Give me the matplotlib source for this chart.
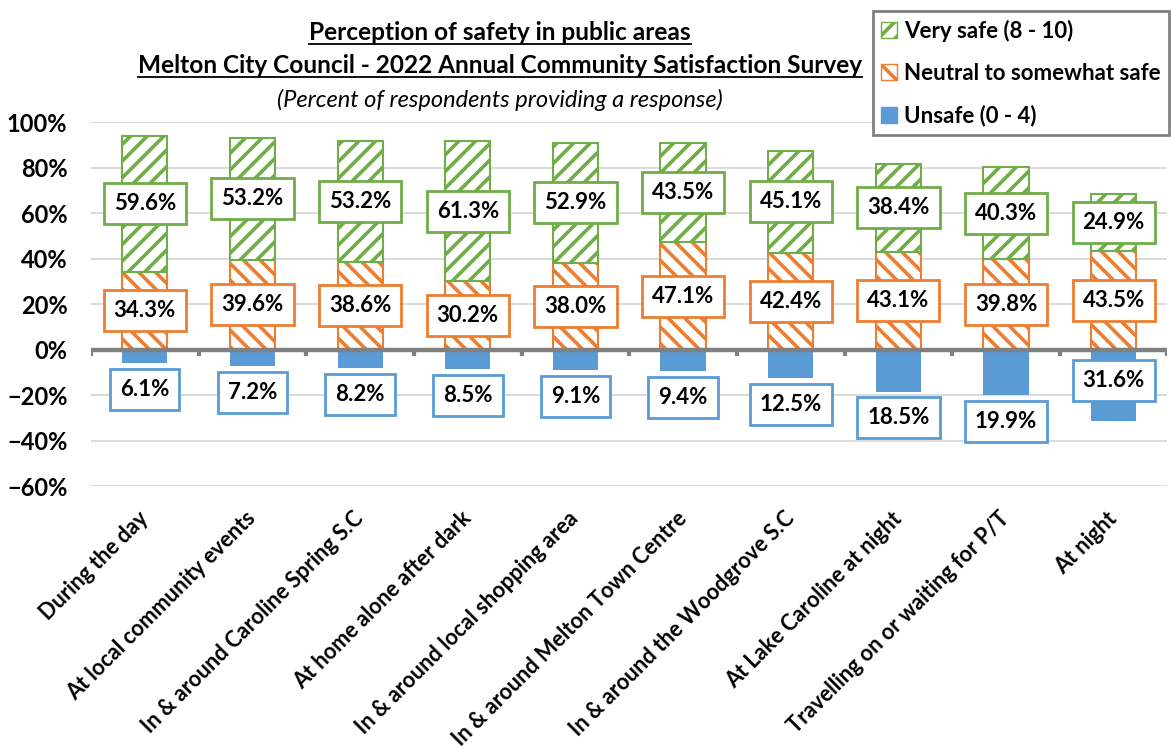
import matplotlib
matplotlib.use("Agg")
import matplotlib.pyplot as plt
import matplotlib.patches as mpatches
from matplotlib.ticker import PercentFormatter
import numpy as np

plt.rcParams['font.family'] = ['Lato', 'DejaVu Sans']
plt.rcParams['hatch.linewidth'] = 2.6

# Data
categories = ["During the day", "At local community events", "In & around Caroline Spring S.C",
              "At home alone after dark", "In & around local shopping area",
              "In & around Melton Town Centre", "In & around the Woodgrove S.C",
              "At Lake Caroline at night", "Travelling on or waiting for P/T", "At night"]
unsafe = [6.1, 7.2, 8.2, 8.5, 9.1, 9.4, 12.5, 18.5, 19.9, 31.6]
neutral = [34.3, 39.6, 38.6, 30.2, 38.0, 47.1, 42.4, 43.1, 39.8, 43.5]
very_safe = [59.6, 53.2, 53.2, 61.3, 52.9, 43.5, 45.1, 38.4, 40.3, 24.9]

GREEN = '#70AD47'
ORANGE = '#ED7D31'
BLUE = '#5B9BD5'
GREY = '#808080'

fig = plt.figure(figsize=(11.71, 7.49), dpi=100)
ax = fig.add_axes([0.0777, 0.351, 0.9193, 0.486])

x = np.arange(len(categories))
w = 0.42
neg = [-v for v in unsafe]

ax.bar(x, neutral, w, color='white', edgecolor=ORANGE, hatch='\\\\', lw=1.5, zorder=3)
ax.bar(x, very_safe, w, bottom=neutral, color='white', edgecolor=GREEN, hatch='//', lw=1.5, zorder=3)
ax.bar(x, neg, w, color=BLUE, edgecolor=BLUE, lw=0, zorder=3)

label_kw = dict(ha='center', va='center', fontsize=16, fontweight='bold', zorder=5)

def box(c):
    return dict(boxstyle='square,pad=0.45', fc='white', ec=c, lw=2)

for i in range(len(categories)):
    ax.text(x[i], neutral[i] / 2, f"{neutral[i]:.1f}%", bbox=box(ORANGE), **label_kw)
    ax.text(x[i], neutral[i] + very_safe[i] / 2, f"{very_safe[i]:.1f}%", bbox=box(GREEN), **label_kw)
    v = unsafe[i]
    y = -(v + 11.5) if v < 25 else -(v - 18)
    ax.text(x[i], y, f"{v:.1f}%", bbox=box(BLUE), **label_kw)

# zero line with category separators
ax.axhline(0, color=GREY, lw=3.2, zorder=4)
ax.vlines(np.arange(len(categories) + 1) - 0.5, -2.6, 0, color=GREY, lw=3, zorder=4)

ax.set_xlim(-0.5, len(categories) - 0.5)
ax.set_ylim(-60, 100)
ax.set_yticks(np.arange(-60, 101, 20))
ax.yaxis.set_major_formatter(PercentFormatter(decimals=0))
ax.grid(axis='y', color='#d9d9d9', lw=1.3, zorder=0)
ax.set_axisbelow(True)
for s in ax.spines.values():
    s.set_visible(False)
ax.tick_params(axis='y', length=0, pad=17, labelsize=17)
ax.tick_params(axis='x', length=0, pad=21, labelsize=15.6)
for t in ax.get_yticklabels():
    t.set_fontweight('bold')
ax.set_xticks(x)
ax.set_xticklabels(categories, rotation=45, ha='right', va='center', rotation_mode='anchor',
                   fontweight='bold')

# title
title_lines = []
title_lines.append(fig.text(0.427, 0.956, "Perception of safety in public areas", ha='center',
                            va='center', fontsize=17.6, fontweight='bold'))
title_lines.append(fig.text(0.427, 0.912, "Melton City Council - 2022 Annual Community Satisfaction Survey",
                            ha='center', va='center', fontsize=17.6, fontweight='bold'))
fig.text(0.427, 0.866, "(Percent of respondents providing a response)", ha='center', va='center',
         fontsize=17, fontstyle='italic')

handles = [mpatches.Patch(facecolor='white', edgecolor=GREEN, hatch='//', label='Very safe (8 - 10)'),
           mpatches.Patch(facecolor='white', edgecolor=ORANGE, hatch='\\\\', label='Neutral to somewhat safe'),
           mpatches.Patch(facecolor=BLUE, edgecolor=BLUE, label='Unsafe (0 - 4)')]
leg = fig.legend(handles=handles, loc='upper left', bbox_to_anchor=(0.7455, 0.985),
                 prop={'weight': 'bold', 'size': 16}, fancybox=False, borderaxespad=0,
                 edgecolor=GREY, framealpha=1, handlelength=0.7, handleheight=0.7,
                 handletextpad=0.3, labelspacing=0.95, borderpad=0.38)
leg.get_frame().set_linewidth(2)

# underline the first two title lines
fig.canvas.draw()
r = fig.canvas.get_renderer()
inv = fig.transFigure.inverted()
for t in title_lines:
    bb = t.get_window_extent(r)
    (x0, y0), (x1, _) = inv.transform([(bb.x0, bb.y0), (bb.x1, bb.y1)])
    fig.add_artist(plt.Line2D([x0, x1], [y0 + 0.001, y0 + 0.001], color='black', lw=1.3,
                              transform=fig.transFigure))

fig.savefig('out.png', dpi=100)
